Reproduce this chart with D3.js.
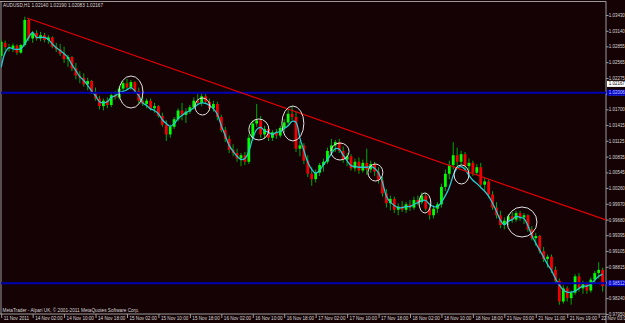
<!DOCTYPE html>
<html><head><meta charset="utf-8">
<script src="https://cdn.jsdelivr.net/npm/d3@7"></script>
<style>html,body{margin:0;padding:0;background:#140204;overflow:hidden}</style>
</head><body>
<svg id="chart" width="625" height="323"></svg>
<script>
const symbolTitle = "AUDUSD,H1  1.02140 1.02190 1.02083 1.02167";
const copyright = "MetaTrader - Alpari UK, \u00a9 2001-2011 MetaQuotes Software Corp.";

const open = [1.0268,1.0292,1.0284,1.0282,1.0287,1.0274,1.0288,1.0334,1.0300,1.0310,
1.0300,1.0306,1.0297,1.0302,1.0285,1.0280,1.0272,1.0262,1.0266,1.0245,
1.0232,1.0228,1.0216,1.0222,1.0202,1.0190,1.0176,1.0186,1.0178,1.0196,
1.0192,1.0208,1.0218,1.0210,1.0220,1.0204,1.0186,1.0180,1.0186,1.0172,
1.0176,1.0158,1.0142,1.0124,1.0138,1.0152,1.0168,1.0160,1.0166,1.0174,
1.0186,1.0182,1.0194,1.0184,1.0172,1.0180,1.0156,1.0132,1.0116,1.0096,
1.0090,1.0080,1.0086,1.0074,1.0118,1.0144,1.0150,1.0124,1.0134,1.0118,
1.0128,1.0122,1.0136,1.0146,1.0162,1.0156,1.0098,1.0104,1.0076,1.0052,
1.0042,1.0054,1.0068,1.0074,1.0094,1.0104,1.0110,1.0094,1.0078,1.0084,
1.0062,1.0074,1.0058,1.0072,1.0060,1.0070,1.0056,1.0040,1.0016,0.9998,
1.0006,0.9986,0.9992,0.9986,0.9996,0.9990,1.0004,1.0000,1.0012,0.9988,
0.9976,0.9988,0.9996,1.0028,1.0052,1.0068,1.0086,1.0074,1.0088,1.0066,
1.0072,1.0054,1.0064,1.0032,1.0038,1.0014,0.9990,0.9976,0.9958,0.9966,
0.9974,0.9968,0.9980,0.9972,0.9976,0.9950,0.9934,0.9938,0.9910,0.9896,
0.9900,0.9876,0.9856,0.9818,0.9842,0.9824,0.9834,0.9864,0.9842,0.9850,
0.9838,0.9858,0.9870,0.9876];

const high = [1.0298,1.0296,1.0290,1.0291,1.0289,1.0290,1.0340,1.0337,1.0314,1.0315,
1.0312,1.0310,1.0306,1.0304,1.0292,1.0290,1.0285,1.0270,1.0268,1.0255,
1.0240,1.0236,1.0228,1.0224,1.0210,1.0195,1.0190,1.0192,1.0200,1.0204,
1.0212,1.0222,1.0226,1.0224,1.0222,1.0210,1.0194,1.0190,1.0190,1.0182,
1.0178,1.0164,1.0150,1.0142,1.0156,1.0172,1.0182,1.0172,1.0178,1.0192,
1.0198,1.0200,1.0198,1.0190,1.0186,1.0184,1.0160,1.0138,1.0122,1.0106,
1.0098,1.0090,1.0092,1.0124,1.0150,1.0180,1.0158,1.0140,1.0138,1.0132,
1.0134,1.0140,1.0152,1.0172,1.0176,1.0166,1.0112,1.0108,1.0086,1.0064,
1.0060,1.0072,1.0080,1.0100,1.0116,1.0114,1.0116,1.0102,1.0090,1.0088,
1.0080,1.0082,1.0078,1.0098,1.0076,1.0074,1.0064,1.0046,1.0024,1.0012,
1.0010,0.9998,1.0002,1.0000,1.0004,1.0010,1.0012,1.0018,1.0016,0.9996,
0.9994,1.0000,1.0034,1.0060,1.0076,1.0110,1.0100,1.0094,1.0092,1.0080,
1.0076,1.0070,1.0072,1.0046,1.0042,1.0020,1.0000,0.9984,0.9972,0.9978,
0.9982,0.9984,0.9984,0.9980,0.9978,0.9956,0.9944,0.9940,0.9918,0.9904,
0.9904,0.9882,0.9860,0.9848,0.9846,0.9838,0.9868,0.9870,0.9856,0.9854,
0.9862,0.9874,0.9890,0.9880];

const low = [1.0262,1.0279,1.0276,1.0275,1.0270,1.0272,1.0285,1.0295,1.0292,1.0296,
1.0295,1.0293,1.0290,1.0282,1.0275,1.0268,1.0255,1.0248,1.0240,1.0225,
1.0218,1.0212,1.0205,1.0198,1.0186,1.0170,1.0168,1.0172,1.0174,1.0188,
1.0188,1.0204,1.0205,1.0206,1.0200,1.0180,1.0176,1.0172,1.0168,1.0164,
1.0155,1.0138,1.0112,1.0118,1.0134,1.0148,1.0150,1.0145,1.0162,1.0170,
1.0178,1.0176,1.0180,1.0168,1.0166,1.0150,1.0128,1.0110,1.0090,1.0084,
1.0074,1.0066,1.0068,1.0070,1.0112,1.0138,1.0118,1.0116,1.0112,1.0112,
1.0116,1.0118,1.0128,1.0140,1.0150,1.0092,1.0084,1.0070,1.0046,1.0030,
1.0036,1.0048,1.0056,1.0070,1.0086,1.0092,1.0090,1.0072,1.0066,1.0058,
1.0056,1.0052,1.0054,1.0050,1.0054,1.0048,1.0034,1.0010,0.9990,0.9985,
0.9980,0.9976,0.9982,0.9980,0.9984,0.9986,0.9994,0.9996,0.9984,0.9968,
0.9970,0.9980,0.9990,1.0020,1.0042,1.0060,1.0064,1.0068,1.0060,1.0056,
1.0048,1.0050,1.0028,1.0020,1.0008,0.9986,0.9970,0.9952,0.9950,0.9958,
0.9962,0.9964,0.9966,0.9960,0.9946,0.9930,0.9920,0.9906,0.9890,0.9880,
0.9870,0.9850,0.9812,0.9814,0.9818,0.9812,0.9830,0.9836,0.9832,0.9832,
0.9834,0.9850,0.9860,0.9836];

const close = [1.0294,1.0284,1.0282,1.0287,1.0274,1.0288,1.0334,1.0300,1.0310,1.0300,
1.0306,1.0297,1.0302,1.0285,1.0280,1.0272,1.0262,1.0266,1.0245,1.0232,
1.0228,1.0216,1.0222,1.0202,1.0190,1.0176,1.0186,1.0178,1.0196,1.0192,
1.0208,1.0218,1.0210,1.0220,1.0204,1.0186,1.0180,1.0186,1.0172,1.0176,
1.0158,1.0142,1.0124,1.0138,1.0152,1.0168,1.0160,1.0166,1.0174,1.0186,
1.0182,1.0194,1.0184,1.0172,1.0180,1.0156,1.0132,1.0116,1.0096,1.0090,
1.0080,1.0086,1.0074,1.0118,1.0144,1.0150,1.0124,1.0134,1.0118,1.0128,
1.0122,1.0136,1.0146,1.0162,1.0156,1.0098,1.0104,1.0076,1.0052,1.0042,
1.0054,1.0068,1.0074,1.0094,1.0104,1.0110,1.0094,1.0078,1.0084,1.0062,
1.0074,1.0058,1.0072,1.0060,1.0070,1.0056,1.0040,1.0016,0.9998,1.0006,
0.9986,0.9992,0.9986,0.9996,0.9990,1.0004,1.0000,1.0012,0.9988,0.9976,
0.9988,0.9996,1.0028,1.0052,1.0068,1.0086,1.0074,1.0088,1.0066,1.0072,
1.0054,1.0064,1.0032,1.0038,1.0014,0.9990,0.9976,0.9958,0.9966,0.9974,
0.9968,0.9980,0.9972,0.9976,0.9950,0.9934,0.9938,0.9910,0.9896,0.9900,
0.9876,0.9856,0.9818,0.9842,0.9824,0.9834,0.9864,0.9842,0.9850,0.9838,
0.9858,0.9870,0.9876,0.9846];

const maLine = [1.0247,1.0274,1.0283,1.0281,1.0280,1.0281,1.0290,1.0302,1.0311,1.0302,
1.0302,1.0302,1.0298,1.0290,1.0283,1.0278,1.0272,1.0265,1.0252,1.0241,
1.0230,1.0223,1.0214,1.0204,1.0195,1.0184,1.0182,1.0184,1.0192,1.0195,
1.0201,1.0203,1.0206,1.0210,1.0204,1.0195,1.0182,1.0177,1.0171,1.0168,
1.0162,1.0151,1.0144,1.0139,1.0144,1.0153,1.0159,1.0164,1.0168,1.0173,
1.0179,1.0182,1.0181,1.0177,1.0171,1.0161,1.0140,1.0122,1.0104,1.0093,
1.0084,1.0078,1.0080,1.0093,1.0117,1.0133,1.0137,1.0131,1.0128,1.0124,
1.0128,1.0129,1.0135,1.0140,1.0148,1.0146,1.0117,1.0095,1.0073,1.0060,
1.0053,1.0058,1.0069,1.0078,1.0089,1.0098,1.0097,1.0086,1.0076,1.0067,
1.0065,1.0064,1.0064,1.0064,1.0065,1.0062,1.0053,1.0036,1.0011,1.0000,
0.9994,0.9990,0.9990,0.9992,0.9992,0.9996,0.9999,1.0003,1.0003,0.9996,
0.9992,0.9992,1.0000,1.0012,1.0027,1.0049,1.0062,1.0065,1.0060,1.0049,
1.0040,1.0034,1.0027,1.0020,1.0011,0.9998,0.9983,0.9967,0.9959,0.9965,
0.9968,0.9974,0.9972,0.9970,0.9957,0.9939,0.9925,0.9912,0.9899,0.9886,
0.9875,0.9860,0.9848,0.9839,0.9835,0.9835,0.9837,0.9842,0.9846,0.9846,
0.9850,0.9857,0.9864,0.9868];

const timeLabels = ["11 Nov 2011","14 Nov 02:00","14 Nov 10:00","14 Nov 18:00","15 Nov 02:00",
"15 Nov 10:00","15 Nov 18:00","16 Nov 02:00","16 Nov 10:00","16 Nov 18:00","17 Nov 02:00",
"17 Nov 10:00","17 Nov 18:00","18 Nov 02:00","18 Nov 10:00","18 Nov 18:00","21 Nov 03:00",
"21 Nov 11:00","21 Nov 19:00","22 Nov 03:00"];
const timeLabelBars = [0,8,16,24,32,40,48,56,64,72,80,88,96,104,112,120,128,136,144,152];

const priceTicks = [1.03430,1.03140,1.02855,1.02565,1.02275,1.01990,1.01700,1.01415,1.01125,
1.00835,1.00545,1.00260,0.99970,0.99680,0.99395,0.99105,0.98815,0.98530,0.98240,0.97950];

const trendLine = [{bar:6.56, price:1.03375},{bar:153.85, price:0.99673}];
const levelLines = [1.02006, 0.98512];
const bidPrice = 1.02167;
const highlights = [
 {b0:29.97,b1:36.07,p0:1.02312,p1:1.01725},
 {b0:49.3,b1:53.1,p0:1.01909,p1:1.01597},
 {b0:63.0,b1:68.1,p0:1.01524,p1:1.01139},
 {b0:71.4,b1:77.0,p0:1.01762,p1:1.01121},
 {b0:83.9,b1:88.5,p0:1.01084,p1:1.00772},
 {b0:93.3,b1:97.1,p0:1.00699,p1:1.00387},
 {b0:106.3,b1:109.3,p0:1.00168,p1:0.99801},
 {b0:115.2,b1:119.0,p0:1.00681,p1:1.00333},
 {b0:128.7,b1:136.3,p0:0.99911,p1:0.99361}
];

const W = 625, H = 323;
const plot = {left:1, right:606, top:1.5, bottom:314};
const FONT = "'Liberation Sans', Arial, sans-serif";
const TXT = "#d8d8d8";

const x = d3.scaleLinear().domain([0,153]).range([1.2, 602.6]);
const y = d3.scaleLinear().domain([1.0343,0.9795]).range([15,314]);

const svg = d3.select("#chart");
svg.append("rect").attr("width",W).attr("height",H).attr("fill","#140204");

svg.append("clipPath").attr("id","pc").append("rect")
  .attr("x",plot.left).attr("y",plot.top).attr("width",plot.right-plot.left).attr("height",plot.bottom-plot.top);

// frame
const frame = [[0,plot.top,plot.right,plot.top],[plot.left,plot.top,plot.left,plot.bottom],
  [0,plot.bottom,plot.right,plot.bottom],[plot.right,plot.top,plot.right,H]];
svg.selectAll("line.frame").data(frame).join("line").attr("class","frame")
  .attr("x1",d=>d[0]).attr("y1",d=>d[1]).attr("x2",d=>d[2]).attr("y2",d=>d[3])
  .attr("stroke","#9a9a9a").attr("stroke-width",1);

const g = svg.append("g").attr("clip-path","url(#pc)");
const idx = d3.range(close.length);

// wicks
g.selectAll("line.wick").data(idx).join("line").attr("class","wick")
  .attr("x1",i=>x(i)).attr("x2",i=>x(i))
  .attr("y1",i=>y(high[i])).attr("y2",i=>y(low[i]))
  .attr("stroke","#00a800").attr("stroke-width",1);
// bodies
g.selectAll("rect.body").data(idx).join("rect").attr("class","body")
  .attr("x",i=>x(i)-1.4).attr("width",2.8)
  .attr("y",i=>y(Math.max(open[i],close[i])))
  .attr("height",i=>Math.max(1,Math.abs(y(open[i])-y(close[i]))))
  .attr("fill",i=>close[i]>=open[i]?"#00ff00":"#f00000");

// moving average
g.append("path").datum(idx)
  .attr("d", d3.line().x(i=>x(i)).y(i=>y(maLine[i])).curve(d3.curveCatmullRom))
  .attr("fill","none").attr("stroke","#22ccd6").attr("stroke-width",1.3);

// horizontal levels
g.selectAll("line.level").data(levelLines).join("line").attr("class","level")
  .attr("x1",plot.left).attr("x2",plot.right).attr("y1",d=>y(d)).attr("y2",d=>y(d))
  .attr("stroke","#0000b4").attr("stroke-width",2);

// trend line
g.append("line")
  .attr("x1",x(trendLine[0].bar)).attr("y1",y(trendLine[0].price))
  .attr("x2",x(trendLine[1].bar)).attr("y2",y(trendLine[1].price))
  .attr("stroke","#e60000").attr("stroke-width",1.2);

// highlight ellipses
g.selectAll("ellipse").data(highlights).join("ellipse")
  .attr("cx",d=>(x(d.b0)+x(d.b1))/2).attr("cy",d=>(y(d.p0)+y(d.p1))/2)
  .attr("rx",d=>(x(d.b1)-x(d.b0))/2).attr("ry",d=>(y(d.p1)-y(d.p0))/2)
  .attr("fill","none").attr("stroke","#e4e4e4").attr("stroke-width",1);

// header and copyright
svg.append("text").attr("x",3).attr("y",7.3).text(symbolTitle)
  .attr("font-family",FONT).attr("font-size",4.7).attr("fill",TXT);
svg.append("text").attr("x",2.5).attr("y",311.5).text(copyright)
  .attr("font-family",FONT).attr("font-size",4.7).attr("fill",TXT);

// y axis
const yAxis = d3.axisRight(y).tickValues(priceTicks).tickFormat(d3.format(".5f")).tickSize(2.5);
const ya = svg.append("g").attr("transform",`translate(${plot.right},0)`).call(yAxis);
ya.select(".domain").remove();
ya.selectAll(".tick line").attr("stroke","#9a9a9a");
ya.selectAll("text").attr("x",2.8).attr("dy","0.34em")
  .attr("font-family",FONT).attr("font-size",4.45).attr("fill",TXT);

// x axis
const xAxis = d3.axisBottom(x).tickValues(timeLabelBars).tickFormat((d,i)=>timeLabels[i]).tickSize(4);
const xa = svg.append("g").attr("transform",`translate(0,${plot.bottom})`).call(xAxis);
xa.select(".domain").remove();
xa.selectAll(".tick line").attr("stroke","#9a9a9a");
xa.selectAll("text").attr("text-anchor","start").attr("x",2).attr("y",3.2).attr("dy","0.71em")
  .attr("font-family",FONT).attr("font-size",4.6).attr("fill",TXT);

// price label boxes
const boxes = [{p:bidPrice, bg:"#ffffff", fg:"#000000"}].concat(levelLines.map(p=>({p, bg:"#0000c8", fg:"#c8d0ff"})));
const bx = svg.selectAll("g.box").data(boxes).join("g").attr("class","box")
  .attr("transform",d=>`translate(${plot.right+1},${y(d.p)})`);
bx.append("rect").attr("x",0).attr("y",-3).attr("width",18).attr("height",6).attr("fill",d=>d.bg);
bx.append("text").attr("x",1.8).attr("y",0).attr("dy","0.34em").text(d=>d3.format(".5f")(d.p))
  .attr("font-family",FONT).attr("font-size",4.45).attr("fill",d=>d.fg);
</script>
</body></html>
